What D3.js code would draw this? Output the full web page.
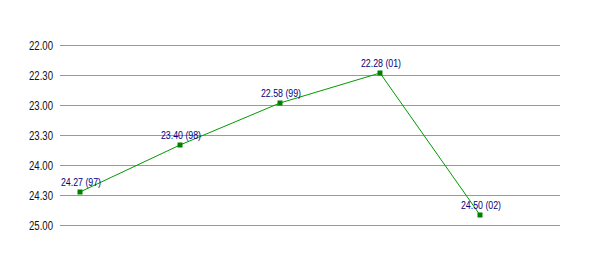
<!DOCTYPE html>
<html>
    <head>
        <meta charset="utf-8">
        <script src="https://cdn.jsdelivr.net/npm/d3@7"></script>
        <style>
            body { margin: 0; background: #fff; }
        </style>
    </head>
    <body>
        <div id="container"></div>
        <script>
            // Data: finish times (min.sec) by season
            const years = ["97", "98", "99", "01", "02"]
            const times = ["24.27", "23.40", "22.58", "22.28", "24.50"]
            const tickLabels = ["22.00", "22.30", "23.00", "23.30", "24.00", "24.30", "25.00"]

            const w = 600
            const h = 255
            const narrow = 0.74 // squeeze text to look like a narrow face

            // "24.27" -> seconds
            const toSec = s => {
                const [m, sec] = s.split(".").map(Number)
                return m * 60 + sec
            }

            const data = years.map((y, i) => ({ year: y, time: times[i], sec: toSec(times[i]) }))

            const xScale = d3.scalePoint()
                .domain(years)
                .range([80, 480])

            const yScale = d3.scaleLinear()
                .domain([toSec("22.00"), toSec("25.00")])
                .range([45, 225])

            const svg = d3.select("#container")
                .append("svg")
                .attr("width", w)
                .attr("height", h)

            // Gridlines + y labels
            const yAxis = d3.axisLeft(yScale)
                .tickValues(tickLabels.map(toSec))
                .tickFormat((d, i) => tickLabels[i])
                .tickSize(-500)
                .tickPadding(7)

            const gy = svg.append("g")
                .attr("transform", "translate(60,0)")
                .call(yAxis)
            gy.select(".domain").remove()
            gy.selectAll("line")
                .attr("stroke", "#999")
                .attr("stroke-width", 1)
                .attr("shape-rendering", "crispEdges")
            gy.selectAll("text")
                .attr("fill", "#111")
                .attr("x", -7 / narrow)
                .attr("transform", `scale(${narrow},1)`)
                .style("font-family", "'Liberation Sans', Arial, sans-serif")
                .style("font-size", "13px")

            // Line
            const line = d3.line()
                .x(d => xScale(d.year))
                .y(d => yScale(d.sec))

            svg.append("path")
                .datum(data)
                .attr("d", line)
                .attr("fill", "none")
                .attr("stroke", "#009900")
                .attr("stroke-width", 1)

            // Markers
            svg.selectAll(".pt")
                .data(data)
                .enter()
                .append("rect")
                .attr("class", "pt")
                .attr("x", d => xScale(d.year) - 2.5)
                .attr("y", d => yScale(d.sec) - 2.5)
                .attr("width", 5)
                .attr("height", 5)
                .attr("fill", "#008000")

            // Point labels
            svg.selectAll(".lbl")
                .data(data)
                .enter()
                .append("g")
                .attr("class", "lbl")
                .attr("transform", d => `translate(${xScale(d.year) + 1},${yScale(d.sec) - 6})`)
                .append("text")
                .attr("transform", "scale(0.88,1)")
                .attr("text-anchor", "middle")
                .attr("fill", "#000080")
                .style("font-family", "'Liberation Sans', Arial, sans-serif")
                .style("font-size", "10px")
                .text(d => `${d.time} (${d.year})`)
        </script>
    </body>
</html>
